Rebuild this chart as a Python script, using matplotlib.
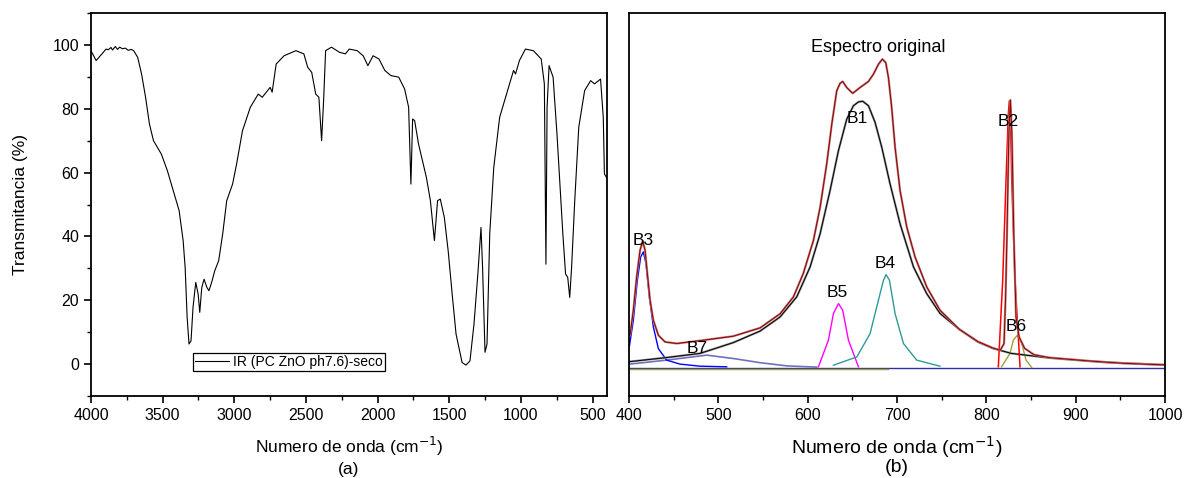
import numpy as np
import matplotlib
matplotlib.use('Agg')
import matplotlib.pyplot as plt
from matplotlib.ticker import MultipleLocator

plt.rcParams['font.family'] = ['Liberation Sans', 'DejaVu Sans']

# ---- (a) espectro IR ----
ir_wn = [4000, 3964, 3923, 3895, 3880, 3860, 3850, 3830, 3815, 3800, 3780, 3760, 3740, 3720,
         3702, 3674, 3647, 3619, 3592, 3564, 3509, 3467, 3426, 3385, 3357, 3343, 3329, 3316,
         3302, 3288, 3269, 3252, 3241, 3227, 3211, 3191, 3177, 3158, 3136, 3109, 3081, 3053,
         3012, 2984, 2943, 2888, 2833, 2805, 2777, 2750, 2736, 2708, 2653, 2570, 2515, 2488,
         2460, 2432, 2410, 2391, 2377, 2363, 2322, 2267, 2225, 2198, 2143, 2101, 2068, 2032,
         1991, 1950, 1908, 1853, 1812, 1784, 1768, 1756, 1742, 1715, 1687, 1660, 1632, 1604,
         1582, 1563, 1535, 1508, 1480, 1453, 1411, 1384, 1356, 1328, 1301, 1279, 1268, 1251,
         1237, 1218, 1190, 1149, 1094, 1052, 1038, 1011, 969, 914, 859, 837, 826, 818, 804,
         776, 749, 708, 689, 674, 660, 647, 625, 597, 556, 514, 487, 445, 426, 418, 404]
ir_t = [98.2, 95.1, 97.2, 98.7, 98.5, 99.2, 98.4, 99.5, 98.6, 99.3, 98.8, 99.0, 98.3, 98.6,
        98.2, 96.1, 90.9, 83.6, 75.2, 70.0, 65.8, 60.6, 54.3, 48.1, 38.7, 30.3, 14.6, 6.3,
        7.3, 17.8, 25.6, 21.9, 16.2, 24.0, 26.6, 24.0, 23.0, 25.6, 29.3, 32.4, 40.8, 51.2,
        56.4, 62.7, 73.1, 80.5, 84.6, 83.6, 85.2, 86.7, 85.2, 94.0, 96.6, 98.2, 97.2, 93.0,
        91.4, 84.6, 83.6, 70.0, 82.6, 98.2, 99.3, 97.7, 97.2, 98.7, 98.2, 96.6, 93.5, 96.6,
        95.6, 92.0, 90.4, 89.9, 86.2, 80.5, 56.4, 76.8, 76.3, 69.0, 63.7, 58.5, 51.2, 38.7,
        51.2, 51.7, 46.0, 35.5, 21.9, 9.4, 0.5, -0.3, 1.0, 12.5, 28.2, 42.8, 30.3, 3.7,
        6.3, 40.8, 61.6, 77.3, 85.7, 92.0, 90.9, 95.1, 98.7, 98.2, 95.6, 87.8, 31.3, 80.5, 93.5,
        89.9, 72.1, 40.8, 28.2, 27.2, 20.9, 30.3, 51.2, 74.2, 85.7, 88.8, 87.8, 89.3, 77.3, 59.6, 58.5]

# ---- (b) deconvolucion ----
orig_wn = [401.1, 404.8, 408.5, 412.3, 415.3, 417.9, 420.5, 423.5, 427.2, 432.8, 440.3, 453.3,
           479.5, 516.8, 546.7, 569, 584, 595, 606.4, 613.9, 621.3, 627, 632.5, 636.2, 639.2,
           643.7, 650.4, 658.6, 668, 673.6, 679.2, 683.6, 687.4, 690.4, 694, 697.8, 703.4,
           710.9, 720.2, 733.3, 748.2, 769.5, 790.5, 807.2, 815.6, 819.8, 821.5, 823.1, 825.2,
           826.9, 828.6, 830.7, 833.2, 836.6, 842.8, 853.3, 870, 912, 953.8, 1000]
orig_y = [10.3, 18.1, 28.5, 36.9, 39.8, 36.9, 29.6, 21.3, 15.0, 10.3, 8.2, 7.7,
          8.6, 10.0, 12.6, 17.0, 22.3, 29.6, 40.0, 50.4, 64.0, 76.5, 86.9, 89.2, 89.8,
          87.9, 86.1, 87.9, 89.8, 92.1, 95.2, 96.8, 95.7, 91.0, 81.7, 69.2, 55.6,
          44.2, 34.8, 25.4, 18.1, 12.2, 8.3, 6.3, 5.6, 7.7, 22.0, 42.1, 73.3,
          84.0, 73.3, 42.1, 16.0, 9.8, 6.2, 4.2, 3.3, 2.3, 1.5, 1.0]

b1_wn = [400, 442, 479.5, 516.8, 546.7, 569, 587.7, 602.7, 613.9, 625, 634.4, 643.7, 651.2,
         656.8, 661.6, 668, 675.4, 682.9, 692.2, 703.4, 718.4, 733.3, 748.2, 769.5, 790.5,
         807.2, 828, 870, 933, 1000]
b1_y = [2.0, 3.3, 4.6, 8.0, 11.6, 16.0, 22.3, 31.7, 42.1, 55.6, 68.1, 78.0, 82.2,
        83.4, 83.6, 82.2, 77.0, 69.2, 57.7, 45.2, 31.7, 23.3, 17.1, 12.2, 8.2,
        6.2, 4.6, 3.2, 1.8, 1.0]

b2_wn = [813.4, 818.3, 822, 824.6, 825.7, 826.9, 828.4, 832.1, 837.7]
b2_y = [0.4, 27.5, 58.75, 79.6, 83.75, 79.6, 58.75, 27.5, 0.4]

b3_wn = [400.3, 404.8, 409.3, 413, 416, 419, 422.7, 427.2, 432.8, 442.1, 457, 479.4, 509.3]
b3_y = [6.7, 15.0, 27.5, 34.8, 36.4, 32.7, 22.3, 12.9, 6.1, 2.5, 1.25, 0.6, 0.4]

b4_wn = [628.8, 655, 669.8, 679.2, 684.8, 687.7, 691.5, 697.8, 707.2, 722, 748]
b4_y = [0.9, 3.5, 10.8, 21.3, 27.5, 29.3, 27.5, 17.1, 7.7, 2.5, 0.6]

b5_wn = [612, 623.2, 628.8, 634.4, 639.2, 645.6, 656.8]
b5_y = [0.4, 8.75, 17.1, 20.2, 18.1, 8.75, 0.4]

b6_wn = [817, 826.5, 830.2, 834.7, 839.6, 844.4, 850.8]
b6_y = [0.4, 4.6, 8.75, 10.3, 7.7, 2.5, 0.2]

b7_wn = [401, 442, 487, 516.8, 546.6, 576.5, 610]
b7_y = [1.25, 2.5, 4.06, 3.0, 1.7, 0.7, 0.3]

base_wn = [400, 1000]
base_y = [0, 0]
olive_wn = [400, 690]
olive_y = [-0.3, -0.3]

labels = ['B1', 'B2', 'B3', 'B4', 'B5', 'B6', 'B7']
label_x = [656, 824.3, 415.7, 686.6, 632.8, 833.2, 476]
label_y = [78.1, 77.2, 40, 32.8, 23.75, 13.1, 6.25]

fig = plt.figure(figsize=(11.86, 4.78), dpi=100)
ax1 = fig.add_axes([0.0767, 0.1715, 0.4351, 0.8013])
ax2 = fig.add_axes([0.5304, 0.1715, 0.4519, 0.8013])

ax1.plot(ir_wn, ir_t, color='black', lw=0.8, label='IR (PC ZnO ph7.6)-seco')
ax1.set_xlim(4000, 400)
ax1.set_ylim(-10, 110)
ax1.set_xticks([4000, 3500, 3000, 2500, 2000, 1500, 1000, 500])
ax1.xaxis.set_minor_locator(MultipleLocator(250))
ax1.set_yticks([0, 20, 40, 60, 80, 100])
ax1.yaxis.set_minor_locator(MultipleLocator(10))
ax1.set_ylabel('Transmitancia (%)', fontsize=12.5)
ax1.yaxis.set_label_coords(-0.122, 0.5)
ax1.set_xlabel('Numero de onda (cm$^{-1}$)\n(a)', fontsize=12.5, linespacing=1.3, labelpad=9)
leg = ax1.legend(loc='lower left', bbox_to_anchor=(0.198, 0.066), borderaxespad=0,
                 fancybox=False, edgecolor='black', framealpha=1, fontsize=10,
                 handlelength=2.4, borderpad=0.15, handletextpad=0.3)
leg.get_frame().set_linewidth(0.9)

ax2.plot(base_wn, base_y, color='#3030a0', lw=1)
ax2.plot(olive_wn, olive_y, color='#a0a030', lw=1)
ax2.plot(b7_wn, b7_y, color='#7070c0', lw=1.2)
ax2.plot(b3_wn, b3_y, color='#0000ff', lw=1)
ax2.plot(b5_wn, b5_y, color='#ff00ff', lw=1)
ax2.plot(b4_wn, b4_y, color='#2f9a9a', lw=1)
ax2.plot(b6_wn, b6_y, color='#a0a040', lw=1)
ax2.plot(b1_wn, b1_y, color='#909090', lw=1.6)
ax2.plot(b1_wn, b1_y, color='black', lw=0.7)
ax2.plot(b2_wn, b2_y, color='#ff0000', lw=1.1)
ax2.plot(orig_wn, orig_y, color='#c08080', lw=1.6)
ax2.plot(orig_wn, orig_y, color='#8b0000', lw=0.7)

for t, x, y in zip(labels, label_x, label_y):
    ax2.text(x, y, t, ha='center', va='center', fontsize=12.5)
ax2.text(679.4, 100.5, 'Espectro original', ha='center', va='center', fontsize=13)

ax2.set_xlim(400, 1000)
ax2.set_ylim(-8.75, 111.25)
ax2.set_xticks([400, 500, 600, 700, 800, 900, 1000])
ax2.xaxis.set_minor_locator(MultipleLocator(50))
ax2.set_yticks([])
ax2.set_xlabel('Numero de onda (cm$^{-1}$)\n(b)', fontsize=14, linespacing=0.95, labelpad=8)

for ax in (ax1, ax2):
    for s in ax.spines.values():
        s.set_linewidth(1.3)
    ax.tick_params(which='major', direction='out', length=5, width=1.2, labelsize=11.5)
    ax.tick_params(which='minor', direction='out', length=3, width=1.0)

fig.savefig('out.png', dpi=100)
